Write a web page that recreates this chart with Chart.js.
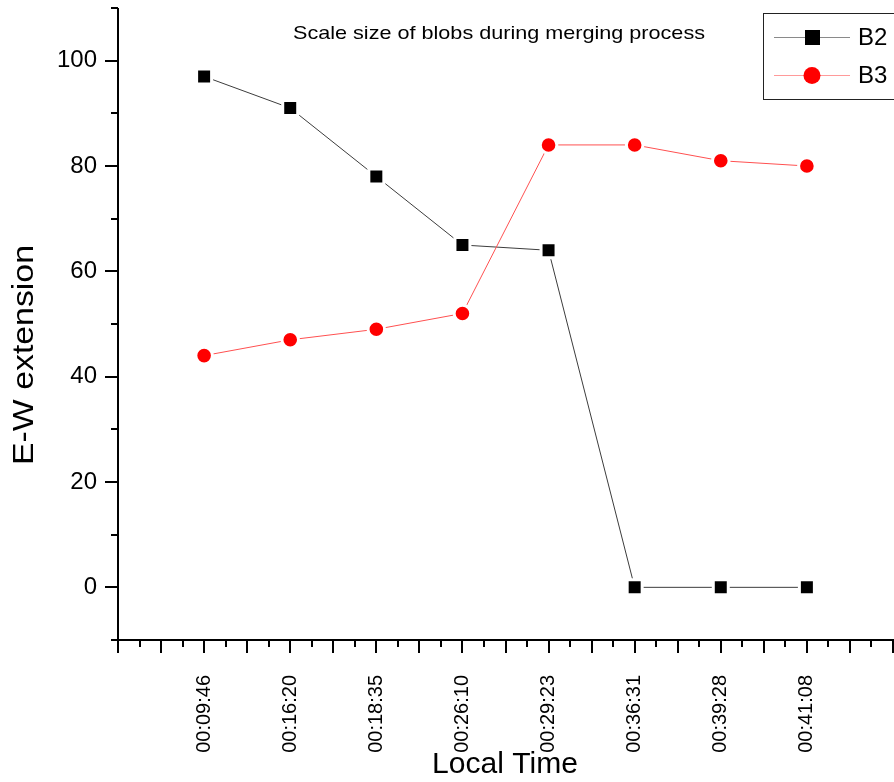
<!DOCTYPE html>
<html><head><meta charset="utf-8">
<script src="https://cdn.jsdelivr.net/npm/chart.js@4.4.1/dist/chart.umd.min.js"></script>
<style>html,body{margin:0;padding:0;background:#fff;overflow:hidden}#wrap{width:894px;height:782px;position:relative}</style>
</head><body><div id="wrap"><canvas id="c" width="894" height="782"></canvas></div>
<script>
const categories = ['00:09:46','00:16:20','00:18:35','00:26:10','00:29:23','00:36:31','00:39:28','00:41:08'];
const seriesB2 = [97, 91, 78, 65, 64, 0, 0, 0];
const seriesB3 = [44, 47, 49, 52, 84, 84, 81, 80];
const yTickValues = [0, 20, 40, 60, 80, 100];
const seriesNames = ['B2', 'B3'];
const chartTitle = 'Scale size of blobs during merging process';
const xAxisTitle = 'Local Time';
const yAxisTitle = 'E-W extension';

const FONT = "'Liberation Sans', Arial, sans-serif";

function toPoints(vals) { return vals.map((v, i) => ({ x: i + 1, y: v })); }

function drawStretched(ctx, text, x, y, size, width, angle) {
  ctx.save();
  ctx.translate(x, y);
  ctx.rotate(angle);
  ctx.font = size + 'px ' + FONT;
  const w = ctx.measureText(text).width;
  ctx.scale(width / w, 1);
  ctx.textAlign = 'center';
  ctx.textBaseline = 'alphabetic';
  ctx.fillStyle = '#000';
  ctx.fillText(text, 0, 0);
  ctx.restore();
}

const decor = {
  id: 'decor',
  afterDraw(chart) {
    const ctx = chart.ctx;
    const ca = chart.chartArea;
    const xs = chart.scales.x, ys = chart.scales.y;
    ctx.save();
    ctx.strokeStyle = '#000';
    ctx.lineWidth = 2;
    ctx.beginPath();
    ctx.moveTo(ca.left, ca.top); ctx.lineTo(ca.left, ca.bottom);
    ctx.moveTo(ca.left - 1, ca.bottom); ctx.lineTo(ca.right + 2, ca.bottom);
    for (let v = ys.min; v <= ys.max + 1e-9; v += 10) {
      const p = Math.round(ys.getPixelForValue(v));
      const len = (Math.round(v) % 20 === 0) ? 13 : 7;
      ctx.moveTo(ca.left - len, p); ctx.lineTo(ca.left, p);
    }
    for (let t = xs.min; t <= xs.max + 1e-9; t += 0.25) {
      const p = Math.round(xs.getPixelForValue(t));
      const len = (Math.abs(t * 2 - Math.round(t * 2)) < 1e-9) ? 13 : 7;
      ctx.moveTo(p, ca.bottom); ctx.lineTo(p, ca.bottom + len);
    }
    ctx.stroke();
    ctx.restore();

    drawStretched(ctx, chartTitle, 499, 39, 19, 412, 0);
    drawStretched(ctx, xAxisTitle, 505, 773, 29, 146, 0);
    drawStretched(ctx, yAxisTitle, 33, 355, 29, 220, -Math.PI / 2);

    ctx.save();
    ctx.strokeStyle = '#222';
    ctx.lineWidth = 1;
    ctx.strokeRect(763.5, 13.5, 150, 86);
    const rows = [37, 75];
    chart.data.datasets.forEach((ds, i) => {
      const y = rows[i];
      ctx.strokeStyle = ds.legendLine;
      ctx.lineWidth = 1.2;
      ctx.beginPath(); ctx.moveTo(774, y + 0.5); ctx.lineTo(850, y + 0.5); ctx.stroke();
      ctx.fillStyle = ds.pointBackgroundColor;
      if (ds.pointStyle === 'rect') {
        ctx.fillRect(805, y - 7, 15, 15);
      } else {
        ctx.beginPath(); ctx.arc(812, y + 0.5, 8.5, 0, Math.PI * 2); ctx.fill();
      }
      ctx.fillStyle = '#000';
      ctx.font = '24px ' + FONT;
      ctx.textAlign = 'left';
      ctx.textBaseline = 'middle';
      ctx.fillText(ds.label, 858, y + 1);
    });
    ctx.restore();
  }
};

new Chart(document.getElementById('c'), {
  type: 'line',
  data: {
    datasets: [
      {
        label: seriesNames[0], data: toPoints(seriesB2), order: 1,
        borderColor: '#3c3c3c', borderWidth: 1, legendLine: '#8a8a8a',
        pointStyle: 'rect', pointRadius: 10.6, pointHoverRadius: 10.6,
        pointBackgroundColor: '#000000', pointBorderColor: '#ffffff', pointBorderWidth: 3
      },
      {
        label: seriesNames[1], data: toPoints(seriesB3), order: 0,
        borderColor: '#ff5050', borderWidth: 1, legendLine: '#ff9a9a',
        pointStyle: 'circle', pointRadius: 8.3, pointHoverRadius: 8.3,
        pointBackgroundColor: '#ff0000', pointBorderColor: '#ffffff', pointBorderWidth: 3
      }
    ]
  },
  options: {
    responsive: false,
    animation: false,
    events: [],
    layout: { autoPadding: false, padding: { top: 8, right: 1, left: 0, bottom: 0 } },
    plugins: { legend: { display: false }, title: { display: false }, tooltip: { enabled: false } },
    scales: {
      x: {
        type: 'linear', min: 0, max: 9,
        border: { display: false },
        grid: { display: false, drawTicks: false },
        afterBuildTicks: (s) => { s.ticks = categories.map((c, i) => ({ value: i + 1 })); },
        afterFit: (s) => { s.height = 142; s.paddingLeft = 0; s.paddingRight = 0; s.paddingTop = 0; s.paddingBottom = 0; },
        ticks: {
          autoSkip: false, minRotation: 90, maxRotation: 90, padding: 35,
          color: '#000', font: { family: FONT, size: 20 },
          callback: (v) => categories[Math.round(v) - 1] || ''
        }
      },
      y: {
        type: 'linear', min: -10, max: 110,
        border: { display: false },
        grid: { display: false, drawTicks: false },
        afterBuildTicks: (s) => { s.ticks = yTickValues.map(v => ({ value: v })); },
        afterFit: (s) => { s.width = 118; s.paddingLeft = 0; s.paddingRight = 0; s.paddingTop = 0; s.paddingBottom = 0; },
        ticks: {
          padding: 21, color: '#000', font: { family: FONT, size: 24 },
          callback: (v) => String(v)
        }
      }
    }
  },
  plugins: [decor]
});
</script></body></html>
